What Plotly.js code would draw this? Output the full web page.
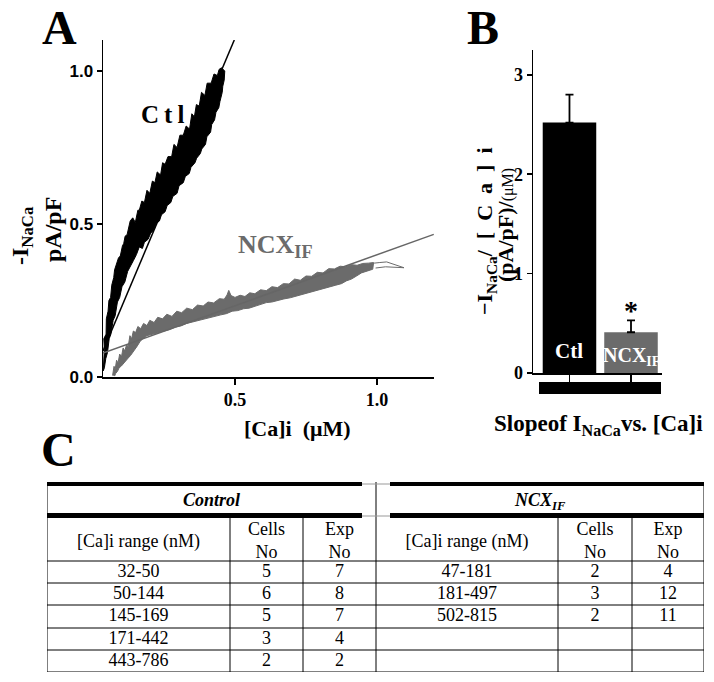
<!DOCTYPE html>
<html><head><meta charset="utf-8">
<script src="https://cdn.plot.ly/plotly-3.0.1.min.js"></script>
<style>html,body{margin:0;padding:0;background:#fff}</style>
</head><body><div id="chart" style="width:714px;height:682px"></div>
<script>
// ---------- Panel A data ----------
const ctlUpperX = [0.036,0.040,0.038,0.046,0.047,0.053,0.056,0.062,0.066,0.073,0.076,0.084,0.090,0.096,0.104,0.108,0.113,0.120,0.126,0.131,0.140,0.149,0.158,0.163,0.172,0.181,0.190,0.200,0.209,0.218,0.226,0.238,0.245,0.254,0.264,0.277,0.285,0.296,0.306,0.318,0.328,0.340,0.348,0.357,0.364,0.374,0.382,0.394,0.402,0.416,0.426,0.438,0.444,0.452];
const ctlUpperY = [0.02,0.09,0.125,0.14,0.19,0.215,0.25,0.26,0.30,0.325,0.35,0.37,0.39,0.395,0.43,0.435,0.46,0.465,0.49,0.51,0.52,0.505,0.545,0.545,0.575,0.57,0.61,0.60,0.64,0.635,0.67,0.66,0.70,0.695,0.72,0.72,0.76,0.75,0.79,0.79,0.82,0.81,0.86,0.85,0.89,0.885,0.93,0.92,0.96,0.96,0.99,0.985,1.005,1.01];
const ctlLowerX = [0.464,0.462,0.457,0.455,0.447,0.443,0.433,0.428,0.418,0.414,0.401,0.396,0.383,0.378,0.365,0.359,0.345,0.339,0.325,0.318,0.303,0.296,0.281,0.274,0.261,0.254,0.241,0.234,0.221,0.214,0.203,0.194,0.181,0.174,0.163,0.153,0.142,0.131,0.122,0.112,0.102,0.094,0.086,0.078,0.071,0.063,0.057,0.051,0.045,0.040,0.036];
const ctlLowerY = [1.00,0.97,0.95,0.93,0.90,0.88,0.865,0.84,0.825,0.80,0.785,0.76,0.745,0.73,0.715,0.70,0.685,0.665,0.655,0.635,0.625,0.60,0.59,0.57,0.56,0.54,0.53,0.51,0.50,0.48,0.47,0.45,0.44,0.42,0.425,0.40,0.38,0.36,0.345,0.31,0.295,0.26,0.245,0.20,0.185,0.14,0.125,0.08,0.06,0.03,0.02];

const ncxUpperX = [0.069,0.074,0.078,0.083,0.088,0.094,0.100,0.106,0.112,0.118,0.124,0.130,0.136,0.142,0.150,0.158,0.168,0.178,0.190,0.200,0.215,0.228,0.245,0.260,0.278,0.295,0.312,0.330,0.350,0.368,0.388,0.405,0.425,0.445,0.462,0.472,0.478,0.486,0.500,0.518,0.535,0.552,0.570,0.590,0.610,0.630,0.650,0.670,0.690,0.710,0.730,0.750,0.770,0.790,0.810,0.830,0.850,0.870,0.890,0.910,0.930,0.950,0.970,0.988];
const ncxUpperY = [0.005,0.035,0.025,0.055,0.045,0.075,0.065,0.095,0.085,0.105,0.10,0.135,0.125,0.15,0.145,0.165,0.158,0.175,0.168,0.185,0.178,0.195,0.19,0.205,0.198,0.215,0.21,0.225,0.22,0.235,0.232,0.245,0.242,0.256,0.254,0.268,0.283,0.266,0.26,0.267,0.263,0.275,0.272,0.285,0.282,0.295,0.292,0.305,0.304,0.32,0.316,0.33,0.329,0.342,0.34,0.354,0.353,0.362,0.36,0.367,0.365,0.371,0.372,0.374];
const ncxLowerX = [0.985,0.965,0.945,0.928,0.910,0.892,0.875,0.855,0.835,0.815,0.795,0.775,0.755,0.735,0.715,0.695,0.672,0.650,0.630,0.610,0.590,0.570,0.550,0.530,0.510,0.490,0.470,0.450,0.430,0.410,0.390,0.370,0.350,0.330,0.310,0.290,0.270,0.250,0.230,0.210,0.190,0.175,0.165,0.155,0.148,0.140,0.132,0.124,0.116,0.108,0.100,0.092,0.086,0.080,0.076];
const ncxLowerY = [0.352,0.346,0.34,0.33,0.32,0.314,0.305,0.3,0.295,0.29,0.284,0.279,0.274,0.269,0.263,0.259,0.255,0.25,0.245,0.243,0.237,0.233,0.225,0.223,0.217,0.215,0.207,0.203,0.198,0.195,0.19,0.185,0.18,0.175,0.167,0.163,0.155,0.15,0.145,0.14,0.135,0.125,0.115,0.1,0.09,0.08,0.07,0.062,0.052,0.046,0.036,0.03,0.018,0.012,0.003];
const ncxTailX = [0.960,0.990,1.010,1.034,1.095,1.030,0.995];
const ncxTailY = [0.350,0.372,0.374,0.376,0.357,0.360,0.356];

const ctlFitX = [0.0352, 0.4975];
const ctlFitY = [0.085, 1.101];
const ncxFitX = [0.0352, 1.2];
const ncxFitY = [0.078, 0.466];

// ---------- Panel B data ----------
const groups = ['Ctl', 'NCX<sub>IF</sub>'];
const slopeMean = [2.52, 0.41];
const slopeErr = [0.28, 0.12];

// ---------- Panel C table data ----------
const colHeaders = ['[Ca]i range (nM)', 'Cells<br>No', 'Exp<br>No'];
const ctlRange = ['32-50','50-144','145-169','171-442','443-786'];
const ctlCells = ['5','6','5','3','2'];
const ctlExp = ['7','8','7','4','2'];
const ncxRange = ['47-181','181-497','502-815','',''];
const ncxCells = ['2','3','2','',''];
const ncxExp = ['4','12','11','',''];

// ---------- layout helpers ----------
const W = 714, H = 682;
const px = v => v / W;
const py = v => 1 - v / H;
const serif = 'Liberation Serif';
const sans = 'Liberation Sans';
const grayNCX = '#6b6b6b';

const traces = [];
// Panel A
traces.push({x: ctlUpperX.concat(ctlLowerX), y: ctlUpperY.concat(ctlLowerY), type:'scatter', mode:'lines',
  fill:'toself', fillcolor:'#000', line:{color:'#000', width:1}, xaxis:'x', yaxis:'y', hoverinfo:'skip'});
traces.push({x: ncxUpperX.concat(ncxLowerX), y: ncxUpperY.concat(ncxLowerY), type:'scatter', mode:'lines',
  fill:'toself', fillcolor:grayNCX, line:{color:grayNCX, width:1}, xaxis:'x', yaxis:'y', hoverinfo:'skip'});
traces.push({x: ncxTailX, y: ncxTailY, type:'scatter', mode:'lines', line:{color:grayNCX, width:1}, xaxis:'x', yaxis:'y'});
traces.push({x: ctlFitX, y: ctlFitY, type:'scatter', mode:'lines', line:{color:'#000', width:1.5}, xaxis:'x', yaxis:'y'});
traces.push({x: ncxFitX, y: ncxFitY, type:'scatter', mode:'lines', line:{color:'#666', width:1.5}, xaxis:'x', yaxis:'y'});

// Panel B
traces.push({x:[0,1], y: slopeMean, type:'bar', width:0.87, marker:{color:['#000', grayNCX], line:{width:0}},
  error_y:{type:'data', symmetric:false, array: slopeErr, arrayminus:[0,0], color:'#000', thickness:1.8, width:4},
  xaxis:'x2', yaxis:'y2'});

// Panel C table as text on a hidden axis pair
const ctlColC = [138.5, 266.5, 339.5];
const ncxColC = [467, 595, 668];
const rowC = [572, 594, 616, 639, 661];
const headerRowC = 542;
function tableText(cols, colsVals) {
  const xs = [], ys = [], ts = [];
  for (let i = 0; i < rowC.length; i++) {
    for (let j = 0; j < cols.length; j++) {
      if (colsVals[j][i] === '') continue;
      xs.push(cols[j]); ys.push(rowC[i]); ts.push(colsVals[j][i]);
    }
  }
  for (let j = 0; j < cols.length; j++) { xs.push(cols[j]); ys.push(headerRowC); ts.push(colHeaders[j]); }
  return {x: xs, y: ys, text: ts, type:'scatter', mode:'text', textposition:'middle center',
    textfont:{family: serif, size:18, color:'#000'}, xaxis:'x3', yaxis:'y3', cliponaxis:false, hoverinfo:'skip'};
}
traces.push(tableText(ctlColC, [ctlRange, ctlCells, ctlExp]));
traces.push(tableText(ncxColC, [ncxRange, ncxCells, ncxExp]));

const shapes = [];
function L(x0, y0, x1, y1, w, c) {
  shapes.push({type:'line', xref:'x3', yref:'y3', x0, y0, x1, y1, line:{color:c || '#000', width:w || 1}});
}
[561, 583, 605, 628, 650, 672].forEach(y => L(47, y, 704, y, 1));
L(47, 484, 47, 672); L(704, 484, 704, 672);
L(376, 482, 376, 672);
[230, 303, 558, 632].forEach(x => L(x, 518, x, 672));
L(47, 484, 362, 484, 4); L(390, 484, 704, 484, 4);
L(47, 515.5, 362, 515.5, 5); L(390, 515.5, 704, 515.5, 5);
L(362, 484, 390, 484, 1, '#999'); L(362, 516, 390, 516, 1, '#999');
shapes.push({type:'rect', xref:'paper', yref:'paper', x0:px(539), x1:px(661), y0:py(394), y1:py(382),
  fillcolor:'#000', line:{width:0}});

const B = (s, c, f) => ({size:s, color:c || '#000', family: f || serif, weight:'bold'});
function P(text, x, y, font, extra) {
  return Object.assign({text, x:px(x), y:py(y), xref:'paper', yref:'paper', xanchor:'center', yanchor:'middle',
    showarrow:false, font}, extra || {});
}
const annotations = [
  P('A', 59, 28, B(48)),
  P('B', 483, 28, B(48)),
  P('C', 58, 449, B(48)),
  P('-I<sub>NaCa</sub>', 22, 236, B(24), {textangle:-90}),
  P('pA/pF', 53, 230, B(24), {textangle:-90}),
  P('[Ca]i  (μM)', 297, 428, B(22)),
  {text:'C\u2009t\u2009l', x:0.243, y:0.859, xref:'x', yref:'y', xanchor:'center', yanchor:'middle', showarrow:false, font:B(25)},
  {text:'NCX<sub>IF</sub>', x:0.644, y:0.428, xref:'x', yref:'y', xanchor:'center', yanchor:'middle', showarrow:false, font:B(26, grayNCX)},
  P('−I<sub>NaCa</sub>/\u2002[\u2002C\u2002a\u2002]\u2002i', 486, 231, B(22), {textangle:-90}),
  P('(pA/pF)/<span style="font-size:16px;font-weight:normal">(μM)</span>', 506, 225, B(22), {textangle:-90}),
  P('Slopeof I<sub>NaCa</sub>vs. [Ca]i', 598, 425, B(23)),
  {text: groups[0], x:0, y:0.22, xref:'x2', yref:'y2', xanchor:'center', yanchor:'middle', showarrow:false, font:B(21, '#fff')},
  {text: groups[1], x:1, y:0.17, xref:'x2', yref:'y2', xanchor:'center', yanchor:'middle', showarrow:false, font:B(20, '#fff')},
  {text:'*', x:1, y:0.63, xref:'x2', yref:'y2', xanchor:'center', yanchor:'middle', showarrow:false, font:B(28)},
  {text:'<i>Control</i>', x:211.5, y:500, xref:'x3', yref:'y3', xanchor:'center', yanchor:'middle', showarrow:false, font:B(18)},
  {text:'<i>NCX<sub>IF</sub></i>', x:540, y:501, xref:'x3', yref:'y3', xanchor:'center', yanchor:'middle', showarrow:false, font:B(18)}
];

const axBase = {showgrid:false, zeroline:false, showline:true, linecolor:'#000', linewidth:1.5,
  ticks:'outside', tickcolor:'#000', tickwidth:1.5};
const layout = {
  width: W, height: H, margin:{l:0, r:0, t:0, b:0}, paper_bgcolor:'#fff', plot_bgcolor:'rgba(0,0,0,0)',
  showlegend:false, font:{family: serif},
  xaxis: Object.assign({}, axBase, {domain:[px(103), px(434)], range:[0.0352, 1.2007], tickvals:[0.5, 1.0], ticktext:['0.5','1.0'],
    ticklen:6, tickfont:B(18), anchor:'y'}),
  yaxis: Object.assign({}, axBase, {domain:[py(377), py(40)], range:[0, 1.101], tickvals:[0, 0.5, 1.0], ticktext:['0.0','0.5','1.0'],
    ticklen:5, tickfont:B(17, '#000', sans), anchor:'x'}),
  xaxis2: Object.assign({}, axBase, {domain:[px(533), px(662)], range:[-0.593, 1.504], tickvals:[0, 1], showticklabels:false,
    ticklen:7, anchor:'y2'}),
  yaxis2: Object.assign({}, axBase, {domain:[py(373), py(50)], range:[0, 3.25], tickvals:[0,1,2,3], ticktext:['0','1','2','3'],
    ticklen:5, tickfont:B(18), anchor:'x2'}),
  xaxis3: {domain:[px(47), px(704)], range:[47, 704], visible:false, fixedrange:true, anchor:'y3'},
  yaxis3: {domain:[py(672), py(482)], range:[672, 482], visible:false, fixedrange:true, anchor:'x3'},
  shapes, annotations
};
Plotly.newPlot('chart', traces, layout, {displayModeBar:false, staticPlot:true});
</script></body></html>
